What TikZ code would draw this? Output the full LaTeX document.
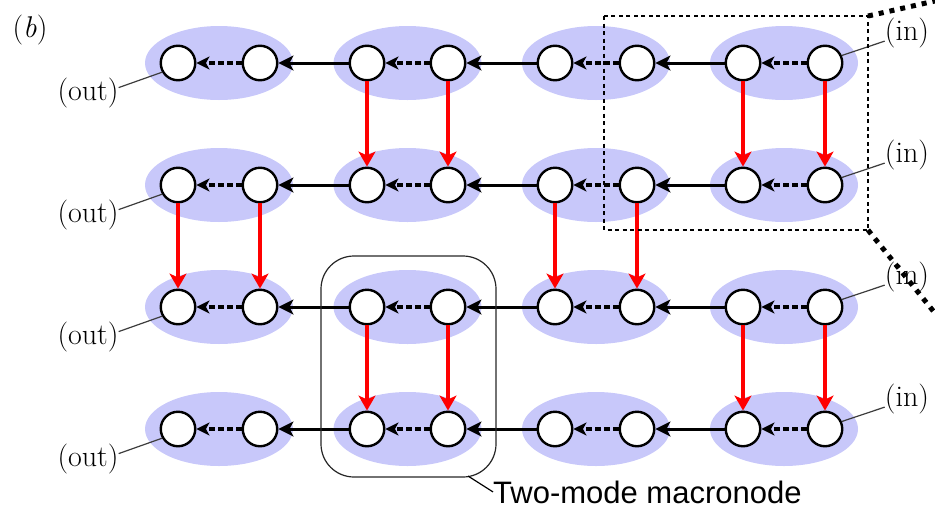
\documentclass[tikz,border=0pt]{standalone}
\usepackage{fontspec}
\newfontfamily\labsans{Liberation Sans}
\usetikzlibrary{arrows.meta}
\definecolor{mnode}{RGB}{200,200,250}
\definecolor{lblgray}{RGB}{60,60,60}
\begin{document}
\begin{tikzpicture}[x=1pt,y=-1pt,
  qm/.style={circle,draw=black,line width=2.4pt,fill=white,minimum size=34.5pt,inner sep=0pt},
  hop/.style={line width=3pt,-{Stealth[length=15pt,width=15pt,inset=4pt]}},
  intra/.style={line width=3.2pt,dash pattern=on 6pt off 3pt,-{Stealth[length=13pt,width=13pt,inset=3.5pt]}},
  vert/.style={red,line width=3.2pt,-{Stealth[length=15pt,width=17pt,inset=4pt]}},
  lbl/.style={inner sep=0pt,font=\fontsize{30}{36}\selectfont},
  lblline/.style={draw=lblgray,line width=1.2pt},
  zoomline/.style={line width=5pt,dash pattern=on 5pt off 6pt},
  boxline/.style={line width=1.5pt,dash pattern=on 4pt off 3.5pt}]
\useasboundingbox (0,0) rectangle (935,512);

% macronode backgrounds
\foreach \y in {63,185,307,429}
  \foreach \x in {219,407.5,596,784}
    \fill[mnode] (\x,\y) ellipse [x radius=74pt,y radius=37pt];

% modes
\foreach \r/\y in {1/63,2/185,3/307,4/429}
  \foreach \c/\x in {1/178,2/260,3/367,4/448,5/555,6/637,7/743,8/825}
    \node[qm] (n\r\c) at (\x,\y) {};

% horizontal connections
\foreach \r in {1,...,4} {
  \foreach \a/\b in {2/1,4/3,6/5,8/7} \draw[intra] (n\r\a) -- (n\r\b);
  \foreach \a/\b in {3/2,5/4,7/6} \draw[hop] (n\r\a) -- (n\r\b);
}

% vertical (red) connections
\foreach \r/\s/\c in {1/2/3,1/2/4,1/2/7,1/2/8,2/3/1,2/3/2,2/3/5,2/3/6,3/4/3,3/4/4,3/4/7,3/4/8}
  \draw[vert] (n\r\c) -- (n\s\c);

% in / out labels
\foreach \r/\y in {1/63,2/185,3/307,4/429} {
  \node[lbl] (out\r) at (88,\y+30) {(out)};
  \draw[lblline] (n\r1.210) -- (out\r.10);
  \node[lbl] (in\r) at (907,\y-30) {(in)};
  \draw[lblline] (n\r8.24) -- (in\r.200);
}

% panel label
\node[lbl] (plabel) at (30,30) {(\textit{b})};

% zoom box
\coordinate (bxnw) at (604,16);
\coordinate (bxne) at (868,16);
\coordinate (bxse) at (868,230);
\coordinate (zend1) at (935,1);
\coordinate (zend2) at (934,312);
\draw[boxline] (bxnw) rectangle (bxse);
\draw[zoomline] (bxne) -- (zend1);
\draw[zoomline] (bxse) -- (zend2);

% two-mode macronode
\node[draw=black!85,line width=1.2pt,rounded corners=33pt,minimum width=175pt,minimum height=221pt,inner sep=0pt] (mac) at (408.5,366.5) {};
\node[anchor=base west,inner sep=0pt,font=\labsans\fontsize{31}{36}\selectfont] (tmm) at (493,503) {Two-mode macronode};
\coordinate (macfoot) at (468,476);
\draw[line width=1.2pt] (macfoot) -- (tmm.west);
\end{tikzpicture}
\end{document}
